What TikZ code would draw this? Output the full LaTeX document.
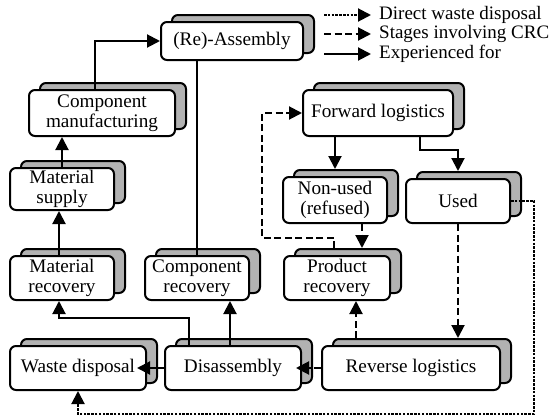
\documentclass[tikz,border=0pt]{standalone}
\usepackage{fontspec}
\setmainfont{Liberation Serif}
\usetikzlibrary{arrows.meta,shadows}
\tikzset{
  stage/.style={
    draw, line width=2pt, rounded corners=6pt, fill=white,
    align=center, inner sep=0pt,
    font=\fontsize{19.2}{20.5}\selectfont,
    copy shadow={shadow xshift=11pt, shadow yshift=7pt,
      fill=gray!60, draw=black, line width=2pt},
  },
  link/.style={line width=2pt},
  flow/.style={link, -{Triangle[length=13pt,width=13pt]}},
  crc flow/.style={flow, dash pattern=on 7pt off 3.5pt},
  waste flow/.style={flow, dash pattern=on 2.5pt off 1.3pt},
  key/.style={anchor=west, inner sep=0pt, font=\fontsize{19}{20}\selectfont},
}

\begin{document}
\begin{tikzpicture}[x=1pt, y=-1pt]
\useasboundingbox (0,0) rectangle (552,418);

% stages
\node [stage, minimum width=142pt, minimum height=38pt] (asm)  at (232,41) {(Re)-Assembly};
\node [stage, minimum width=146pt, minimum height=46pt] (cmf)  at (102,113) {Component\\manufacturing};
\node [stage, minimum width=104pt, minimum height=42pt] (msup) at (62,189) {Material\\supply};
\node [stage, minimum width=104pt, minimum height=44pt] (mrec) at (62,278) {Material\\recovery};
\node [stage, minimum width=104pt, minimum height=44pt] (crec) at (197,278) {Component\\recovery};
\node [stage, minimum width=136pt, minimum height=44pt] (wdis) at (78,368) {Waste disposal};
\node [stage, minimum width=136pt, minimum height=44pt] (disa) at (233,368) {Disassembly};
\node [stage, minimum width=178pt, minimum height=44pt] (rlog) at (411,368) {Reverse logistics};
\node [stage, minimum width=106pt, minimum height=44pt] (prec) at (337,278) {Product\\recovery};
\node [stage, minimum width=104pt, minimum height=46pt] (nuse) at (335,200) {Non-used\\(refused)};
\node [stage, minimum width=104pt, minimum height=44pt] (used) at (458,201) {Used};
\node [stage, minimum width=150pt, minimum height=46pt] (flog) at (378,113) {Forward logistics};

% experienced flows
\draw [flow] ([xshift=-7pt]cmf.north) |- (asm.west);
\draw [flow] (msup.north) -- (msup.north |- cmf.south);
\draw [flow] ([xshift=-3pt]mrec.north) -- ([xshift=-3pt]mrec.north |- msup.south);
\draw [link] (crec.north) -- (crec.north |- asm.south);
\draw [flow] ([xshift=-44pt]disa.north) -- ++(0,-27) -| ([xshift=-3pt]mrec.south);
\draw [flow] ([xshift=-3pt]disa.north) -- ([xshift=-3pt]disa.north |- crec.south);
\draw [flow, shorten >=-10pt] (disa.west) -- (wdis.east);
\draw [flow, shorten >=7pt] (nuse.north |- flog.south) -- (nuse.north);
\draw [flow, shorten >=7pt] ([xshift=42pt]flog.south) -- ++(0,13) -| (used.north);

% stages involving CRC
\coordinate (rp) at ([xshift=19pt]prec.south);
\coordinate (np) at ([xshift=27pt]nuse.south);
\coordinate (pf) at ([xshift=-3pt,yshift=7pt]prec.north);
\draw [crc flow, shorten >=-6pt] (rlog.west) -- (disa.east);
\draw [crc flow, shorten <=7pt] (rp |- rlog.north) -- (rp);
\draw [crc flow, shorten >=7pt] (used.south) -- (used.south |- rlog.north);
\draw [crc flow, shorten >=7pt] (np) -- (np |- prec.north);
\draw [crc flow] (pf) -- ++(0,-10) -- ++(-72,0) |- (flog.west);

% direct waste disposal
\draw [waste flow] (used.east) -- ++(23,0) -- ++(0,213) -| (wdis.south);

% legend
\node [key] (k1) at (379,15) {Direct waste disposal};
\node [key] (k2) at (379,34) {Stages involving CRC};
\node [key] (k3) at (379,54) {Experienced for};
\coordinate (s1) at (324,15);
\coordinate (s2) at (324,34);
\coordinate (s3) at (324,54);
\draw [waste flow, shorten >=8pt] (s1) -- (k1.west);
\draw [crc flow, shorten >=8pt] (s2) -- (k2.west);
\draw [flow, shorten >=8pt] (s3) -- (k3.west);
\end{tikzpicture}
\end{document}
